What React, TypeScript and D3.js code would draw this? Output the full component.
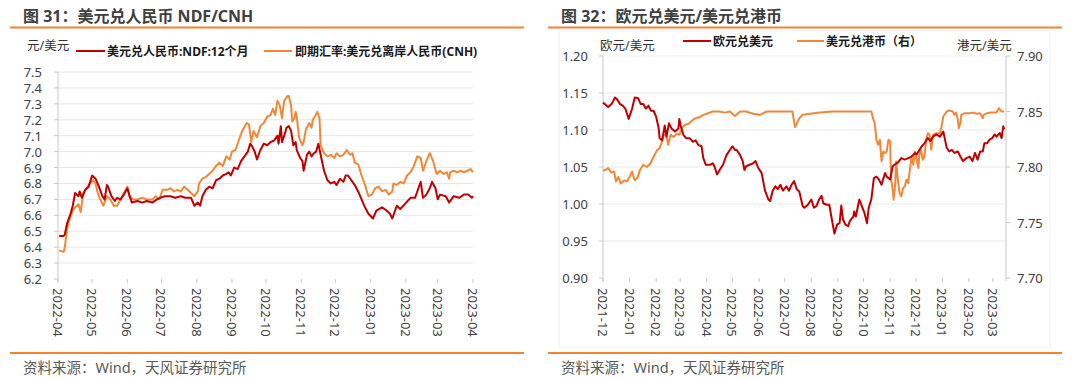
import React from 'react';
import * as d3 from 'd3';

// ---------- Figure 31: USD/CNY NDF 12M vs USD/CNH ----------
const ndfDates = ["2022-04-02","2022-04-06","2022-04-07","2022-04-09","2022-04-12","2022-04-14","2022-04-16","2022-04-19","2022-04-20","2022-04-22","2022-04-25","2022-04-28","2022-05-01","2022-05-04","2022-05-07","2022-05-10","2022-05-12","2022-05-14","2022-05-15","2022-05-18","2022-05-21","2022-05-23","2022-05-26","2022-05-29","2022-06-01","2022-06-03","2022-06-05","2022-06-10","2022-06-14","2022-06-18","2022-06-23","2022-06-27","2022-06-30","2022-07-04","2022-07-09","2022-07-13","2022-07-18","2022-07-22","2022-07-27","2022-07-30","2022-08-02","2022-08-04","2022-08-06","2022-08-09","2022-08-12","2022-08-15","2022-08-18","2022-08-21","2022-08-24","2022-08-27","2022-08-29","2022-08-31","2022-09-03","2022-09-06","2022-09-09","2022-09-12","2022-09-15","2022-09-17","2022-09-19","2022-09-21","2022-09-23","2022-09-26","2022-09-29","2022-10-02","2022-10-05","2022-10-08","2022-10-11","2022-10-12","2022-10-14","2022-10-15","2022-10-17","2022-10-19","2022-10-21","2022-10-23","2022-10-25","2022-10-27","2022-10-28","2022-10-31","2022-11-02","2022-11-03","2022-11-06","2022-11-08","2022-11-10","2022-11-12","2022-11-14","2022-11-16","2022-11-18","2022-11-21","2022-11-24","2022-11-27","2022-11-30","2022-12-02","2022-12-05","2022-12-08","2022-12-10","2022-12-12","2022-12-15","2022-12-18","2022-12-21","2022-12-24","2022-12-27","2022-12-30","2023-01-03","2023-01-06","2023-01-11","2023-01-15","2023-01-18","2023-01-20","2023-01-24","2023-01-27","2023-01-31","2023-02-05","2023-02-09","2023-02-12","2023-02-14","2023-02-16","2023-02-19","2023-02-22","2023-02-24","2023-02-27","2023-03-01","2023-03-03","2023-03-08","2023-03-11","2023-03-15","2023-03-20","2023-03-24","2023-03-28","2023-03-31","2023-04-01"];
const ndfValues = [6.47,6.47,6.48,6.55,6.61,6.66,6.74,6.72,6.75,6.71,6.76,6.78,6.85,6.83,6.78,6.72,6.70,6.79,6.78,6.72,6.69,6.71,6.70,6.73,6.77,6.72,6.68,6.69,6.68,6.69,6.68,6.70,6.71,6.72,6.72,6.71,6.72,6.71,6.71,6.66,6.68,6.66,6.72,6.76,6.78,6.77,6.82,6.83,6.85,6.86,6.87,6.85,6.90,6.89,6.94,6.97,7.00,7.05,7.03,7.00,6.95,7.01,7.05,7.04,7.06,7.07,7.10,7.05,7.16,7.06,7.10,7.15,7.16,7.13,7.04,7.06,7.01,6.96,6.94,6.88,6.98,7.00,6.97,6.99,7.00,7.05,6.98,6.88,6.82,6.80,6.81,6.79,6.83,6.81,6.85,6.85,6.82,6.79,6.75,6.70,6.65,6.61,6.58,6.63,6.65,6.63,6.61,6.58,6.66,6.64,6.67,6.71,6.71,6.77,6.81,6.71,6.73,6.77,6.81,6.77,6.70,6.73,6.72,6.68,6.72,6.71,6.73,6.73,6.71,6.72];

const cnhDates = ["2022-04-02","2022-04-06","2022-04-07","2022-04-09","2022-04-11","2022-04-14","2022-04-16","2022-04-19","2022-04-21","2022-04-23","2022-04-26","2022-04-29","2022-05-02","2022-05-04","2022-05-06","2022-05-08","2022-05-11","2022-05-14","2022-05-17","2022-05-20","2022-05-23","2022-05-26","2022-05-29","2022-06-01","2022-06-03","2022-06-06","2022-06-10","2022-06-14","2022-06-18","2022-06-23","2022-06-26","2022-06-29","2022-07-02","2022-07-06","2022-07-09","2022-07-12","2022-07-15","2022-07-18","2022-07-21","2022-07-24","2022-07-27","2022-07-30","2022-08-02","2022-08-03","2022-08-06","2022-08-09","2022-08-12","2022-08-15","2022-08-18","2022-08-21","2022-08-24","2022-08-27","2022-08-30","2022-09-01","2022-09-04","2022-09-07","2022-09-10","2022-09-14","2022-09-16","2022-09-18","2022-09-20","2022-09-23","2022-09-26","2022-09-29","2022-10-02","2022-10-05","2022-10-07","2022-10-09","2022-10-11","2022-10-13","2022-10-15","2022-10-17","2022-10-20","2022-10-21","2022-10-23","2022-10-24","2022-10-26","2022-10-27","2022-10-28","2022-10-30","2022-11-02","2022-11-03","2022-11-05","2022-11-08","2022-11-10","2022-11-11","2022-11-13","2022-11-15","2022-11-17","2022-11-18","2022-11-21","2022-11-24","2022-11-27","2022-11-30","2022-12-02","2022-12-05","2022-12-08","2022-12-11","2022-12-14","2022-12-16","2022-12-18","2022-12-21","2022-12-24","2022-12-27","2022-12-30","2023-01-02","2023-01-05","2023-01-08","2023-01-11","2023-01-14","2023-01-17","2023-01-20","2023-01-21","2023-01-24","2023-01-27","2023-01-30","2023-02-02","2023-02-05","2023-02-08","2023-02-11","2023-02-14","2023-02-16","2023-02-19","2023-02-22","2023-02-25","2023-02-28","2023-03-03","2023-03-06","2023-03-09","2023-03-11","2023-03-12","2023-03-15","2023-03-18","2023-03-21","2023-03-24","2023-03-27","2023-03-30","2023-04-01"];
const cnhValues = [6.38,6.37,6.40,6.51,6.57,6.63,6.65,6.67,6.62,6.74,6.77,6.80,6.82,6.80,6.74,6.70,6.66,6.72,6.70,6.66,6.66,6.70,6.74,6.78,6.72,6.70,6.70,6.71,6.70,6.70,6.72,6.70,6.76,6.76,6.77,6.75,6.76,6.75,6.78,6.76,6.74,6.72,6.75,6.80,6.83,6.84,6.86,6.88,6.91,6.93,6.91,6.97,6.95,7.00,7.01,7.07,7.13,7.18,7.17,7.06,7.13,7.09,7.16,7.18,7.22,7.23,7.27,7.23,7.32,7.29,7.21,7.32,7.35,7.35,7.29,7.19,7.21,7.25,7.22,7.09,7.04,7.06,7.14,7.18,7.15,7.20,7.22,7.25,7.21,7.04,6.99,6.97,6.98,6.96,6.99,6.97,6.98,7.01,6.98,6.99,6.93,6.92,6.85,6.79,6.72,6.73,6.77,6.78,6.75,6.76,6.73,6.75,6.80,6.79,6.81,6.80,6.85,6.87,6.91,6.97,6.96,6.88,6.94,6.99,6.94,6.86,6.88,6.86,6.87,6.83,6.87,6.88,6.87,6.88,6.87,6.88,6.89,6.87];

const leftYTicks = [6.2,6.3,6.4,6.5,6.6,6.7,6.8,6.9,7.0,7.1,7.2,7.3,7.4,7.5];
const leftMonths = ["2022-04","2022-05","2022-06","2022-07","2022-08","2022-09","2022-10","2022-11","2022-12","2023-01","2023-02","2023-03","2023-04"];

// ---------- Figure 32: EUR/USD vs USD/HKD ----------
const eurDates = ["2021-12-01","2021-12-03","2021-12-07","2021-12-11","2021-12-15","2021-12-17","2021-12-21","2021-12-24","2021-12-27","2021-12-31","2022-01-04","2022-01-07","2022-01-11","2022-01-14","2022-01-17","2022-01-20","2022-01-23","2022-01-26","2022-01-29","2022-02-01","2022-02-04","2022-02-05","2022-02-08","2022-02-11","2022-02-13","2022-02-16","2022-02-19","2022-02-23","2022-02-27","2022-02-28","2022-03-02","2022-03-05","2022-03-08","2022-03-12","2022-03-16","2022-03-19","2022-03-22","2022-03-26","2022-03-28","2022-03-31","2022-04-05","2022-04-08","2022-04-10","2022-04-13","2022-04-16","2022-04-20","2022-04-24","2022-04-28","2022-05-01","2022-05-04","2022-05-06","2022-05-10","2022-05-13","2022-05-15","2022-05-17","2022-05-21","2022-05-25","2022-05-28","2022-05-31","2022-06-04","2022-06-08","2022-06-12","2022-06-14","2022-06-17","2022-06-20","2022-06-23","2022-06-26","2022-06-29","2022-07-03","2022-07-06","2022-07-09","2022-07-12","2022-07-15","2022-07-18","2022-07-22","2022-07-24","2022-07-28","2022-08-01","2022-08-04","2022-08-07","2022-08-10","2022-08-13","2022-08-15","2022-08-19","2022-08-22","2022-08-25","2022-08-28","2022-08-31","2022-09-03","2022-09-05","2022-09-07","2022-09-10","2022-09-13","2022-09-15","2022-09-19","2022-09-20","2022-09-22","2022-09-26","2022-09-29","2022-10-02","2022-10-05","2022-10-07","2022-10-10","2022-10-13","2022-10-16","2022-10-19","2022-10-22","2022-10-26","2022-10-28","2022-11-01","2022-11-04","2022-11-06","2022-11-10","2022-11-14","2022-11-18","2022-11-22","2022-11-26","2022-11-30","2022-12-02","2022-12-05","2022-12-08","2022-12-11","2022-12-15","2022-12-18","2022-12-21","2022-12-25","2022-12-29","2023-01-02","2023-01-04","2023-01-06","2023-01-09","2023-01-12","2023-01-15","2023-01-19","2023-01-22","2023-01-25","2023-01-29","2023-02-02","2023-02-05","2023-02-08","2023-02-11","2023-02-14","2023-02-17","2023-02-19","2023-02-22","2023-02-25","2023-02-28","2023-03-03","2023-03-05","2023-03-09","2023-03-11","2023-03-13","2023-03-14"];
const eurValues = [1.137,1.135,1.131,1.135,1.144,1.142,1.135,1.133,1.129,1.115,1.129,1.144,1.143,1.135,1.135,1.129,1.133,1.126,1.126,1.118,1.102,1.089,1.086,1.106,1.091,1.109,1.102,1.098,1.102,1.115,1.104,1.093,1.089,1.089,1.084,1.086,1.080,1.078,1.062,1.053,1.053,1.055,1.051,1.040,1.046,1.053,1.066,1.073,1.078,1.073,1.073,1.066,1.058,1.046,1.051,1.053,1.055,1.058,1.049,1.042,1.018,1.006,1.004,1.018,1.024,1.020,1.026,1.018,1.024,1.018,1.026,1.031,1.020,1.017,0.997,0.995,0.999,1.006,0.995,0.997,1.006,1.011,1.001,0.999,0.999,0.979,0.960,0.972,0.974,0.998,0.979,0.972,0.970,0.977,0.983,0.990,0.983,1.006,0.997,0.988,0.974,0.995,1.006,1.035,1.037,1.033,1.026,1.042,1.037,1.033,1.051,1.053,1.056,1.062,1.060,1.062,1.064,1.069,1.067,1.073,1.078,1.082,1.089,1.085,1.091,1.094,1.091,1.098,1.087,1.076,1.071,1.073,1.069,1.071,1.064,1.058,1.062,1.064,1.058,1.069,1.060,1.071,1.071,1.082,1.082,1.087,1.089,1.094,1.091,1.096,1.089,1.105,1.101];

const hkdDates = ["2021-12-01","2021-12-03","2021-12-07","2021-12-11","2021-12-14","2021-12-16","2021-12-19","2021-12-22","2021-12-26","2021-12-29","2022-01-01","2022-01-04","2022-01-05","2022-01-07","2022-01-10","2022-01-13","2022-01-17","2022-01-21","2022-01-25","2022-01-29","2022-02-02","2022-02-05","2022-02-07","2022-02-10","2022-02-13","2022-02-15","2022-02-18","2022-02-21","2022-02-25","2022-02-28","2022-03-04","2022-03-07","2022-03-11","2022-03-15","2022-03-19","2022-03-24","2022-03-28","2022-04-01","2022-04-08","2022-04-16","2022-04-22","2022-04-28","2022-05-04","2022-05-10","2022-05-17","2022-05-25","2022-06-02","2022-06-10","2022-06-17","2022-06-26","2022-07-03","2022-07-10","2022-07-13","2022-07-15","2022-07-18","2022-07-22","2022-07-30","2022-08-11","2022-08-26","2022-09-15","2022-09-30","2022-10-10","2022-10-12","2022-10-14","2022-10-16","2022-10-18","2022-10-20","2022-10-22","2022-10-24","2022-10-26","2022-10-28","2022-10-30","2022-11-01","2022-11-02","2022-11-04","2022-11-05","2022-11-07","2022-11-08","2022-11-10","2022-11-12","2022-11-14","2022-11-16","2022-11-18","2022-11-20","2022-11-22","2022-11-24","2022-11-26","2022-11-28","2022-11-30","2022-12-02","2022-12-04","2022-12-05","2022-12-07","2022-12-09","2022-12-11","2022-12-13","2022-12-15","2022-12-17","2022-12-19","2022-12-21","2022-12-25","2022-12-29","2022-12-31","2023-01-02","2023-01-06","2023-01-09","2023-01-13","2023-01-15","2023-01-17","2023-01-19","2023-01-20","2023-01-22","2023-01-23","2023-01-27","2023-02-02","2023-02-06","2023-02-10","2023-02-14","2023-02-17","2023-02-18","2023-02-22","2023-02-27","2023-03-05","2023-03-08","2023-03-11","2023-03-14"];
const hkdValues = [7.797,7.797,7.799,7.795,7.796,7.787,7.791,7.785,7.788,7.787,7.791,7.796,7.793,7.788,7.790,7.797,7.802,7.800,7.803,7.809,7.815,7.817,7.821,7.829,7.829,7.820,7.829,7.827,7.830,7.829,7.836,7.838,7.839,7.842,7.844,7.845,7.847,7.848,7.850,7.850,7.849,7.850,7.846,7.850,7.850,7.848,7.847,7.850,7.850,7.850,7.850,7.850,7.836,7.839,7.844,7.847,7.848,7.849,7.850,7.850,7.850,7.850,7.844,7.8395,7.8245,7.820,7.8245,7.805,7.814,7.8125,7.814,7.8245,7.823,7.790,7.7795,7.7705,7.7855,7.805,7.7885,7.7765,7.7735,7.781,7.7825,7.7885,7.7855,7.7975,7.8095,7.802,7.814,7.8065,7.799,7.811,7.8155,7.8065,7.8095,7.8245,7.8305,7.829,7.8155,7.829,7.8305,7.8305,7.8365,7.8455,7.850,7.851,7.850,7.847,7.849,7.8425,7.835,7.8395,7.847,7.8485,7.8485,7.849,7.848,7.8485,7.844,7.847,7.8485,7.849,7.849,7.853,7.850,7.850];

const rightYTicksL = [0.90,0.95,1.00,1.05,1.10,1.15,1.20];
const rightYTicksR = [7.70,7.75,7.80,7.85,7.90];
const rightMonths = ["2021-12","2022-01","2022-02","2022-03","2022-04","2022-05","2022-06","2022-07","2022-08","2022-09","2022-10","2022-11","2022-12","2023-01","2023-02","2023-03"];

const RED = '#C00000';
const ORANGE = '#F08838';
const RULE = '#EE8434';
const FONT = "'Noto Sans', 'Noto Sans CJK SC', sans-serif";
const TXT = '#404040';

const parse = d3.utcParse('%Y-%m-%d');

export default function App() {
  // Left chart scales
  const xL = d3.scaleUtc().domain([parse('2022-04-01')!, parse('2023-04-01')!]).range([58, 473]);
  const yL = d3.scaleLinear().domain([6.2, 7.5]).range([279, 72]);
  // Right chart scales
  const xR = d3.scaleUtc().domain([parse('2021-12-01')!, parse('2023-03-15')!]).range([603, 1005]);
  const yRL = d3.scaleLinear().domain([0.9, 1.2]).range([278, 56]);
  const yRR = d3.scaleLinear().domain([7.7, 7.9]).range([278, 56]);

  const mk = (dates: string[], vals: number[], xs: any, ys: any) =>
    d3.line<number>().x((_, i) => xs(parse(dates[i])!)).y((v) => ys(v))(vals) || '';

  const ndfPath = mk(ndfDates, ndfValues, xL, yL);
  const cnhPath = mk(cnhDates, cnhValues, xL, yL);
  const eurPath = mk(eurDates, eurValues, xR, yRL);
  const hkdPath = mk(hkdDates, hkdValues, xR, yRR);

  const f1 = d3.format('.1f');
  const f2 = d3.format('.2f');

  return (
    <svg width={1080} height={378} style={{ position: 'absolute', left: 0, top: 0, background: '#fff' }} fontFamily={FONT}>
      <rect x={0} y={0} width={1080} height={378} fill="#fff" />

      {/* ===== Left panel ===== */}
      <text x={23} y={16} dominantBaseline="central" fontSize={16} fontWeight="bold" fill={TXT}>图 31：美元兑人民币 NDF/CNH</text>
      <line x1={10} x2={524} y1={27.5} y2={27.5} stroke={RULE} strokeWidth={2} />

      <text x={27} y={45} dominantBaseline="central" fontSize={12.5} fill="#333">元/美元</text>
      <line x1={76} x2={105} y1={51} y2={51} stroke={RED} strokeWidth={2} />
      <text x={107} y={51} dominantBaseline="central" fontSize={12} fontWeight="bold" fill="#1a1a1a">美元兑人民币:NDF:12个月</text>
      <line x1={264} x2={292} y1={51} y2={51} stroke={ORANGE} strokeWidth={2} />
      <text x={295} y={51} dominantBaseline="central" fontSize={12} fontWeight="bold" fill="#1a1a1a">即期汇率:美元兑离岸人民币(CNH)</text>

      {leftYTicks.map((t) => (
        <g key={'ly' + t}>
          {t > 6.2 + 1e-9 && <line x1={58} x2={473} y1={yL(t)} y2={yL(t)} stroke="#e6e6e6" strokeWidth={1} />}
          <line x1={54} x2={58} y1={yL(t)} y2={yL(t)} stroke="#c8c8c8" />
          <text x={42} y={yL(t)} textAnchor="end" dominantBaseline="central" fontSize={13} fill={TXT}>{f1(t)}</text>
        </g>
      ))}
      <line x1={58} x2={58} y1={72} y2={282} stroke="#c8c8c8" />
      {leftMonths.map((m) => {
        const x = xL(parse(m + '-01')!);
        return (
          <g key={'lx' + m}>
            <line x1={x} x2={x} y1={279} y2={283} stroke="#c8c8c8" />
            <text transform={`translate(${x},288) rotate(90)`} dominantBaseline="central" fontSize={13} fill={TXT}>{m}</text>
          </g>
        );
      })}
      <path d={cnhPath} fill="none" stroke={ORANGE} strokeWidth={2} strokeLinejoin="round" />
      <path d={ndfPath} fill="none" stroke={RED} strokeWidth={2} strokeLinejoin="round" />

      <line x1={10} x2={524} y1={353} y2={353} stroke={RULE} strokeWidth={2} />
      <text x={23} y={367} dominantBaseline="central" fontSize={14.5} fill="#595959">资料来源：Wind，天风证券研究所</text>

      {/* ===== Right panel ===== */}
      <text x={561} y={16} dominantBaseline="central" fontSize={16} fontWeight="bold" fill={TXT}>图 32：欧元兑美元/美元兑港币</text>
      <line x1={548} x2={1062} y1={27.5} y2={27.5} stroke={RULE} strokeWidth={2} />
      <rect x={559} y={31} width={491} height={316} fill="none" stroke="#f0f0f0" />

      <text x={600} y={45} dominantBaseline="central" fontSize={12.5} fill="#333">欧元/美元</text>
      <line x1={683} x2={711} y1={41} y2={41} stroke={RED} strokeWidth={2} />
      <text x={713} y={41} dominantBaseline="central" fontSize={12} fontWeight="bold" fill="#1a1a1a">欧元兑美元</text>
      <line x1={797} x2={824} y1={41} y2={41} stroke={ORANGE} strokeWidth={2} />
      <text x={826} y={41} dominantBaseline="central" fontSize={12} fontWeight="bold" fill="#1a1a1a">美元兑港币（右）</text>
      <text x={957} y={45} dominantBaseline="central" fontSize={12.5} fill="#333">港元/美元</text>

      {rightYTicksL.map((t) => (
        <g key={'rl' + t}>
          {t > 0.9 + 1e-9 && <line x1={603} x2={1006} y1={yRL(t)} y2={yRL(t)} stroke={t > 1.19 ? '#f0f0f0' : '#e9e9e9'} strokeWidth={1} />}
          <line x1={599} x2={603} y1={yRL(t)} y2={yRL(t)} stroke="#c8c8c8" />
          <text x={588} y={yRL(t)} textAnchor="end" dominantBaseline="central" fontSize={13} fill={TXT}>{f2(t)}</text>
        </g>
      ))}
      {rightYTicksR.map((t) => (
        <g key={'rr' + t}>
          <line x1={1006} x2={1010} y1={yRR(t)} y2={yRR(t)} stroke="#c8c8c8" />
          <text x={1017} y={yRR(t)} dominantBaseline="central" fontSize={13} fill={TXT}>{f2(t)}</text>
        </g>
      ))}
      <line x1={603} x2={603} y1={56} y2={281} stroke="#c8c8c8" />
      <line x1={1006} x2={1006} y1={56} y2={281} stroke="#c8c8c8" />
      {rightMonths.map((m) => {
        const x = xR(parse(m + '-01')!);
        return (
          <g key={'rx' + m}>
            <line x1={x} x2={x} y1={278} y2={282} stroke="#c8c8c8" />
            <text transform={`translate(${x},288) rotate(90)`} dominantBaseline="central" fontSize={13} fill={TXT}>{m}</text>
          </g>
        );
      })}
      <path d={hkdPath} fill="none" stroke={ORANGE} strokeWidth={2} strokeLinejoin="round" />
      <path d={eurPath} fill="none" stroke={RED} strokeWidth={2} strokeLinejoin="round" />

      <line x1={548} x2={1062} y1={353} y2={353} stroke={RULE} strokeWidth={2} />
      <text x={561} y={367} dominantBaseline="central" fontSize={14.5} fill="#595959">资料来源：Wind，天风证券研究所</text>
    </svg>
  );
}
